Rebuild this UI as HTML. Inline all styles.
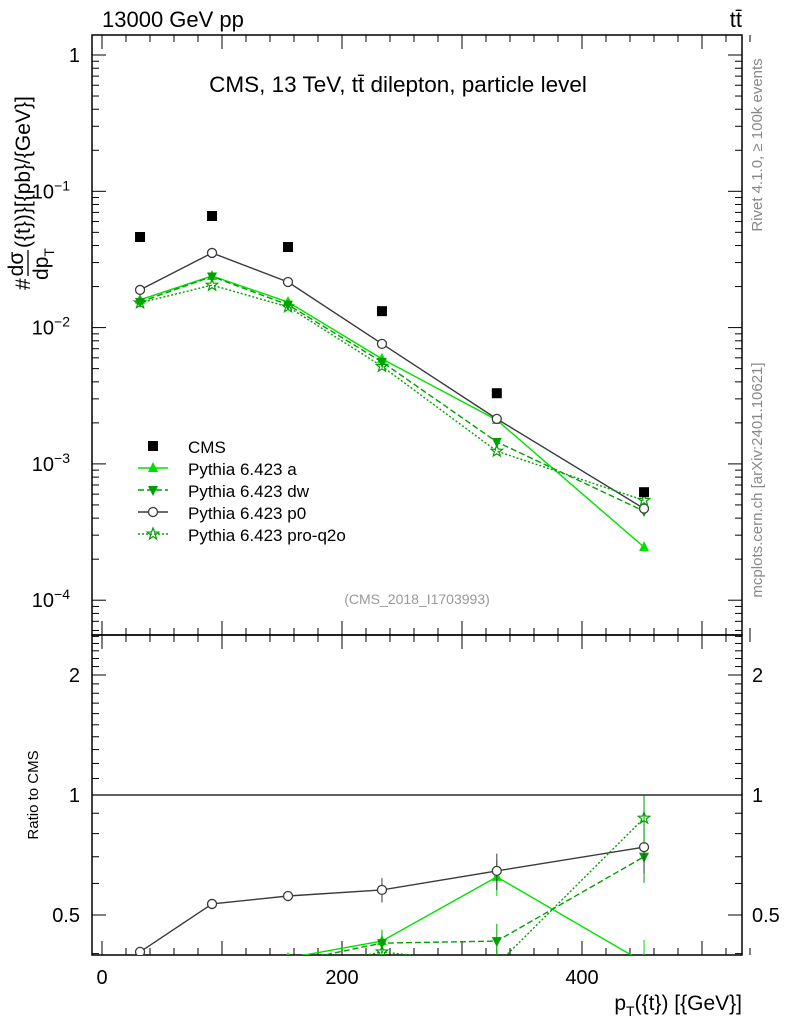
<!DOCTYPE html>
<html><head><meta charset="utf-8"><style>
body{margin:0;background:#fff;}
svg text{font-family:"Liberation Sans",sans-serif;}
</style></head><body>
<svg id="chart" width="786" height="1024" viewBox="0 0 786 1024" xmlns="http://www.w3.org/2000/svg">
<g id="g"></g>
</svg>
<script>
const xs=[31.7,91.7,155,233.3,329,451.7];
const cms=[0.0462,0.0659,0.039,0.0132,0.0033,0.00062];
const cmsErr=[0.002,0.003,0.0015,0.0006,0.0002,0.00005];
const pyA=[0.016,0.0239,0.0154,0.0059,0.0021,0.000245];
const pyDW=[0.0154,0.0237,0.0147,0.0056,0.00145,0.00045];
const pyP0=[0.0189,0.0353,0.0216,0.0076,0.00214,0.00047];
const pyQ2O=[0.0152,0.0205,0.0142,0.0052,0.00124,0.00054];
const rA=[0.35,0.36,0.39,0.43,0.623,0.38];
const rDW=[0.33,0.36,0.38,0.425,0.43,0.70];
const rP0=[0.404,0.533,0.558,0.578,0.645,0.74];
const rQ2O=[0.33,0.31,0.36,0.404,0.375,0.875];
const xTicks=[0,200,400];
const yTicks=[1,0.1,0.01,0.001,0.0001];
const rTicks=[0.5,1,2];
const X=v=>102+v*1.2;
const Y=v=>55-Math.log10(v)*136.3;
const R=v=>795-Math.log10(v)*398.6;
const NS="http://www.w3.org/2000/svg";
const g=document.getElementById('g');
function el(t,a,p){const e=document.createElementNS(NS,t);for(const k in a)e.setAttribute(k,a[k]);(p||g).appendChild(e);return e;}
function txt(x,y,s,size,anchor,fill,name,p){const e=el('text',{x:x,y:y,'font-size':size,'text-anchor':anchor||'start',fill:fill||'#000'},p);e.textContent=s;

return e;}
const f1=el('rect',{x:92,y:35,width:650,height:600,fill:'none',stroke:'#000','stroke-width':1.5});


const f2=el('rect',{x:92,y:635,width:650,height:320,fill:'none',stroke:'#000','stroke-width':1.5});


for(let v=0;v<=540;v+=20){const big=v%100===0;const x=X(v);
el('line',{x1:x,x2:x,y1:635,y2:635-(big?14:7),stroke:'#000'});
el('line',{x1:x,x2:x,y1:35,y2:35+(big?14:7),stroke:'#000'});
el('line',{x1:x,x2:x,y1:955,y2:955-(big?14:7),stroke:'#000'});
el('line',{x1:x,x2:x,y1:635,y2:635+(big?14:7),stroke:'#000'});}
xTicks.forEach(v=>txt(X(v),984,String(v),20,'middle','#000','x-tick-label'));
for(let d=-5;d<=0;d++)for(let m=1;m<10;m++){const v=m*Math.pow(10,d);const y=Y(v);if(y<35||y>635)continue;
const L=m===1?14:7;el('line',{x1:92,x2:92+L,y1:y,y2:y,stroke:'#000'});el('line',{x1:742,x2:742-L,y1:y,y2:y,stroke:'#000'});}
const yl=['1','10','10','10','10'],ye=['','−1','−2','−3','−4'];
yTicks.forEach((v,i)=>{const t=txt(80,Y(v)+7,yl[i],20,'end','#000','y-tick-label');
if(ye[i]){t.setAttribute('x',70);const s=document.createElementNS(NS,'tspan');s.setAttribute('dy',-8);s.setAttribute('font-size',14);s.textContent=ye[i];t.appendChild(s);}});
for(let k=4;k<=25;k++){const v=k/10;const y=R(v);if(y<635||y>955)continue;const L=(k===5||k===10||k===20)?14:7;
el('line',{x1:92,x2:92+L,y1:y,y2:y,stroke:'#000'});el('line',{x1:742,x2:742-L,y1:y,y2:y,stroke:'#000'});}
rTicks.forEach(v=>{txt(80,R(v)+7,String(v),20,'end','#000','ratio-tick-label');txt(752,R(v)+7,String(v),20,'start','#000','ratio-tick-label-right');});
el('line',{x1:92,x2:742,y1:R(1),y2:R(1),stroke:'#000','stroke-width':1.2});
const defs=el('defs',{});
const c1=el('clipPath',{id:'c1'},defs);el('rect',{x:92,y:35,width:650,height:600},c1);
const c2=el('clipPath',{id:'c2'},defs);el('rect',{x:92,y:635,width:650,height:320},c2);
const up=el('g',{'clip-path':'url(#c1)'});const lo=el('g',{'clip-path':'url(#c2)'});
function marker(p,type,x,y,col){
 if(type==='sq')return el('rect',{x:x-5,y:y-5,width:10,height:10,fill:'#000'},p);
 if(type==='up')return el('polygon',{points:`${x},${y-6} ${x-5},${y+4} ${x+5},${y+4}`,fill:col},p);
 if(type==='dn')return el('polygon',{points:`${x},${y+6} ${x-5},${y-4} ${x+5},${y-4}`,fill:col},p);
 if(type==='o')return el('circle',{cx:x,cy:y,r:4.5,fill:'#fff',stroke:col,'stroke-width':1.3},p);
 if(type==='st'){let pts=[];for(let i=0;i<10;i++){const r=i%2?2.5:6;const a=-Math.PI/2+i*Math.PI/5;pts.push((x+r*Math.cos(a)).toFixed(1)+','+(y+r*Math.sin(a)).toFixed(1));}
  return el('polygon',{points:pts.join(' '),fill:'none',stroke:col,'stroke-width':1.2},p);}
}
const series=[
 {n:'pythia-a',d:pyA,r:rA,c:'#00e000',m:'up',dash:''},
 {n:'pythia-dw',d:pyDW,r:rDW,c:'#00a000',m:'dn',dash:'6,3'},
 {n:'pythia-p0',d:pyP0,r:rP0,c:'#3a3a3a',m:'o',dash:''},
 {n:'pythia-pro-q2o',d:pyQ2O,r:rQ2O,c:'#00a000',m:'st',dash:'2,2'}];
series.forEach(s=>{
 const l=el('polyline',{points:s.d.map((v,i)=>X(xs[i])+','+Y(v)).join(' '),fill:'none',stroke:s.c,'stroke-width':1.4,'stroke-dasharray':s.dash},up);
 
 
 s.d.forEach((v,i)=>{const m=marker(up,s.m,X(xs[i]),Y(v),s.c);
 
 });
 const l2=el('polyline',{points:s.r.map((v,i)=>X(xs[i])+','+R(v)).join(' '),fill:'none',stroke:s.c,'stroke-width':1.4,'stroke-dasharray':s.dash},lo);
 
 
 s.r.forEach((v,i)=>{const y=R(v);const e=i>=3?0.07*v*(i-1)/2:0.03*v;
 el('line',{x1:X(xs[i]),x2:X(xs[i]),y1:R(v+e),y2:R(v-e),stroke:s.c},lo);
 const m=marker(lo,s.m,X(xs[i]),y,s.c);
 
 });
});
cms.forEach((v,i)=>{el('line',{x1:X(xs[i]),x2:X(xs[i]),y1:Y(v+cmsErr[i]),y2:Y(v-cmsErr[i]),stroke:'#000'},up);
const m=marker(up,'sq',X(xs[i]),Y(v),'#000');

});
const leg=[['CMS','sq','#000',''],['Pythia 6.423 a','up','#00e000',''],['Pythia 6.423 dw','dn','#00a000','6,3'],['Pythia 6.423 p0','o','#3a3a3a',''],['Pythia 6.423 pro-q2o','st','#00a000','2,2']];
leg.forEach((l,i)=>{const y=446+i*22;
 if(i>0)el('line',{x1:138,x2:168,y1:y,y2:y,stroke:l[2],'stroke-width':1.4,'stroke-dasharray':l[3]});
 marker(g,l[1],153,y,l[2]);
 txt(188,y+7,l[0],17,'start','#000','legend-entry');});
txt(102,27,'13000 GeV pp',22,'start','#000','energy-label');
txt(742,27,'tt̄',22,'end','#000','process-label');
txt(398,92,'CMS, 13 TeV, tt̄ dilepton, particle level',22.5,'middle','#000','plot-title');
txt(417,604,'(CMS_2018_I1703993)',14,'middle','#999','analysis-id');
const xt=txt(742,1010,'',21,'end','#000','x-axis-title');
xt.innerHTML='p<tspan font-size="14" dy="6">T</tspan><tspan dy="-6">({t}) [{GeV}]</tspan>';
const yg=el('g',{transform:'translate(38,290) rotate(-90)'});


txt(0,-8,'#',21,'start','#000','y-title-hash',yg);
txt(26,-15,'dσ',21,'middle','#000','y-title-numerator',yg);
el('line',{x1:14,x2:40,y1:-10,y2:-10,stroke:'#000','stroke-width':1.3},yg);
const dn=txt(26,10,'',21,'middle','#000','y-title-denominator',yg);
dn.innerHTML='dp<tspan font-size="14" dy="6">T</tspan>';
txt(42,-8,'({t})}[{pb}/{GeV}]',21,'start','#000','y-title-units',yg);
const rt=txt(0,0,'Ratio to CMS',15,'middle','#000','ratio-axis-title');rt.setAttribute('transform','translate(38,795) rotate(-90)');
const r1=txt(0,0,'Rivet 4.1.0, ≥ 100k events',15,'middle','#888','rivet-label');r1.setAttribute('transform','translate(762,145) rotate(-90)');
const r2=txt(0,0,'mcplots.cern.ch [arXiv:2401.10621]',15,'middle','#888','mcplots-label');r2.setAttribute('transform','translate(762,480) rotate(-90)');
</script>
</body></html>
